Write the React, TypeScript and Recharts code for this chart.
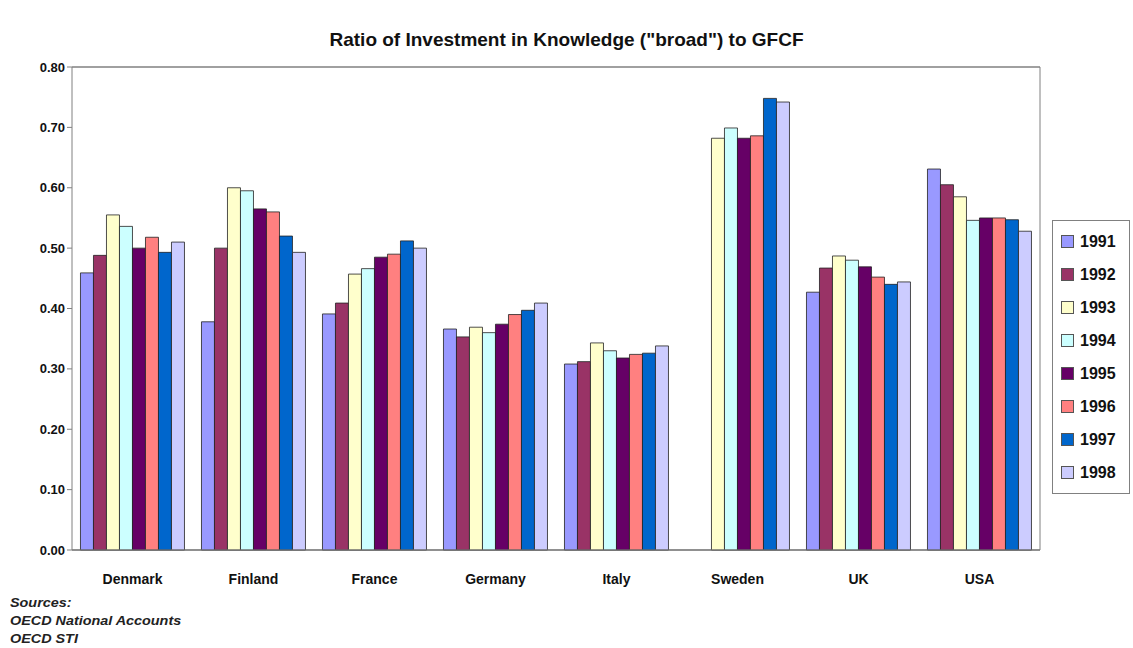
import React from "react";
import { BarChart, Bar, XAxis, YAxis, CartesianGrid } from "recharts";

const countries = ["Denmark", "Finland", "France", "Germany", "Italy", "Sweden", "UK", "USA"];

const years = ["1991", "1992", "1993", "1994", "1995", "1996", "1997", "1998"];

const yearColors = ["#9999FF", "#993366", "#FFFFCC", "#CCFFFF", "#660066", "#FF8080", "#0066CC", "#CCCCFF"];

// one array per year, in country order (Sweden has no data for 1991-92)
const v1991 = [0.459, 0.378, 0.391, 0.366, 0.308, null, 0.427, 0.631];
const v1992 = [0.488, 0.5, 0.409, 0.353, 0.312, null, 0.467, 0.605];
const v1993 = [0.555, 0.6, 0.457, 0.369, 0.343, 0.682, 0.487, 0.585];
const v1994 = [0.536, 0.595, 0.466, 0.36, 0.33, 0.699, 0.48, 0.546];
const v1995 = [0.5, 0.565, 0.485, 0.374, 0.318, 0.682, 0.469, 0.55];
const v1996 = [0.518, 0.56, 0.49, 0.39, 0.324, 0.686, 0.452, 0.55];
const v1997 = [0.493, 0.52, 0.512, 0.397, 0.326, 0.748, 0.44, 0.547];
const v1998 = [0.51, 0.493, 0.5, 0.409, 0.338, 0.742, 0.444, 0.528];

const yTicks = [0, 0.1, 0.2, 0.3, 0.4, 0.5, 0.6, 0.7, 0.8];

const series = [v1991, v1992, v1993, v1994, v1995, v1996, v1997, v1998];

const data = countries.map((country, i) => {
  const row: Record<string, string | number | null> = { country };
  years.forEach((y, j) => {
    row[y] = series[j][i];
  });
  return row;
});

const font = "'Liberation Sans', Arial, sans-serif";

function YearLegend() {
  return (
    <div
      style={{
        position: "absolute",
        left: 1052,
        top: 220,
        width: 78,
        boxSizing: "border-box",
        border: "1px solid #808080",
        background: "#fff",
        padding: "4px 0 4px 8px",
        fontWeight: "bold",
        fontSize: 16,
        color: "#111",
      }}
    >
      {years.map((y, i) => (
        <div key={y} style={{ display: "flex", alignItems: "center", height: 33 }}>
          <span
            style={{
              display: "inline-block",
              width: 11,
              height: 11,
              background: yearColors[i],
              border: "1px solid #555",
              marginRight: 6,
            }}
          />
          {y}
        </div>
      ))}
    </div>
  );
}

export default function App() {
  return (
    <div
      style={{
        position: "absolute",
        left: 0,
        top: 0,
        width: 1133,
        height: 648,
        background: "#fff",
        fontFamily: font,
      }}
    >
      <div
        style={{
          position: "absolute",
          top: 29,
          left: 0,
          width: 1133,
          textAlign: "center",
          fontWeight: "bold",
          fontSize: 19,
          color: "#111",
        }}
      >
        Ratio of Investment in Knowledge ("broad") to GFCF
      </div>
      <BarChart
        width={1133}
        height={648}
        data={data}
        margin={{ top: 67, right: 92, bottom: 68, left: 12 }}
        barCategoryGap="7%"
        barGap={0}
      >
        <CartesianGrid vertical={false} stroke="#808080" strokeWidth={1.5} />
        <XAxis
          dataKey="country"
          stroke="#808080"
          tickLine={false}
          tick={{ fill: "#111", fontSize: 14, fontWeight: "bold", fontFamily: font }}
          tickMargin={18}
        />
        <YAxis
          yAxisId="left"
          domain={[0, 0.8]}
          ticks={yTicks}
          width={60}
          stroke="#808080"
          tickSize={5}
          tickFormatter={(v: number) => v.toFixed(2)}
          tick={{ fill: "#111", fontSize: 13, fontWeight: "bold", fontFamily: font }}
        />
        <YAxis
          yAxisId="right"
          orientation="right"
          domain={[0, 0.8]}
          width={1}
          stroke="#808080"
          tick={false}
          tickLine={false}
        />
        {years.map((y, i) => (
          <Bar
            key={y}
            yAxisId="left"
            dataKey={y}
            fill={yearColors[i]}
            stroke="#222"
            strokeWidth={0.8}
            isAnimationActive={false}
          />
        ))}
      </BarChart>
      <YearLegend />
      <div
        style={{
          position: "absolute",
          left: 10,
          top: 594,
          fontSize: 12.5,
          fontStyle: "italic",
          fontWeight: "bold",
          lineHeight: "18px",
          color: "#222",
          transform: "scaleX(1.15)",
          transformOrigin: "left top",
        }}
      >
        <div>Sources:</div>
        <div>OECD National Accounts</div>
        <div>OECD STI</div>
      </div>
    </div>
  );
}
